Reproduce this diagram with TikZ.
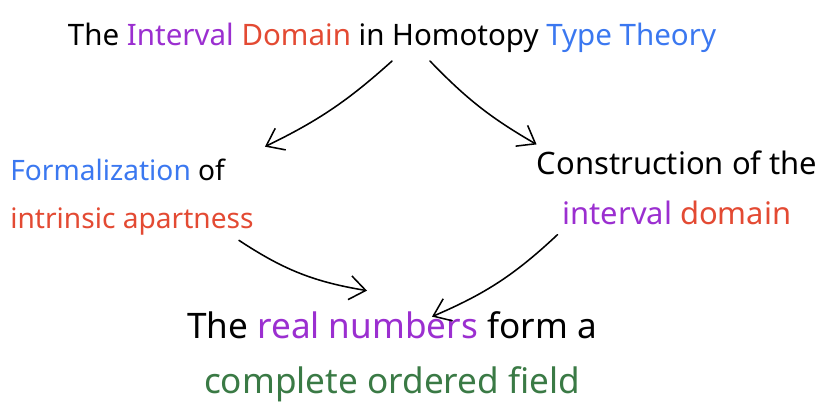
\documentclass[tikz,border=0pt]{standalone}
\usepackage{fontspec}
\setmainfont{Noto Sans}
\usetikzlibrary{arrows.meta,calc}

\definecolor{hpurple}{HTML}{9B2FD0}
\definecolor{hred}{HTML}{E34A33}
\definecolor{hblue}{HTML}{3B78F0}
\definecolor{hgreen}{HTML}{3A7A45}

\begin{document}
\begin{tikzpicture}[x=0.025cm, y=-0.025cm,
    txt/.style={inner sep=0pt, font=\fontsize{20}{34}\selectfont},
    arr/.style={-{Straight Barb[length=4mm, width=6mm]}, line width=1.1pt, line cap=round}]
    \useasboundingbox (0,0) rectangle (819,407);
    \node [txt, font=\fontsize{21}{28}\selectfont](title) at (392,38) {The \textcolor{hpurple}{Interval} \textcolor{hred}{Domain} in Homotopy \textcolor{hblue}{Type Theory}};
    \node [txt, anchor=west, align=left](formal) at (10,197) {\textcolor{hblue}{Formalization} of\\ \textcolor{hred}{intrinsic apartness}};
    \node [txt, font=\fontsize{22}{36}\selectfont, align=center](constr) at (677,188) {Construction of the\\ \textcolor{hpurple}{interval} \textcolor{hred}{domain}};
    \node [txt, font=\fontsize{25}{39}\selectfont, align=center](reals) at (392,357) {The \textcolor{hpurple}{real numbers} form a\\ \textcolor{hgreen}{complete ordered field}};
    \draw [arr] ([shift={(0,8)}]title.south) to[bend left=8] ([shift={(11,-12)}]formal.north east);
    \draw [arr] ([shift={(38,8)}]title.south) to[bend right=8] ([shift={(0,-6)}]constr.north west);
    \draw [arr] ([shift={(-15,5)}]formal.south east) to[bend right=12] ([shift={(-25,-21)}]reals.north);
    \draw [arr] ([shift={(21,9)}]constr.south west) to[bend left=10] ([shift={(40,5)}]reals.north);
\end{tikzpicture}
\end{document}
